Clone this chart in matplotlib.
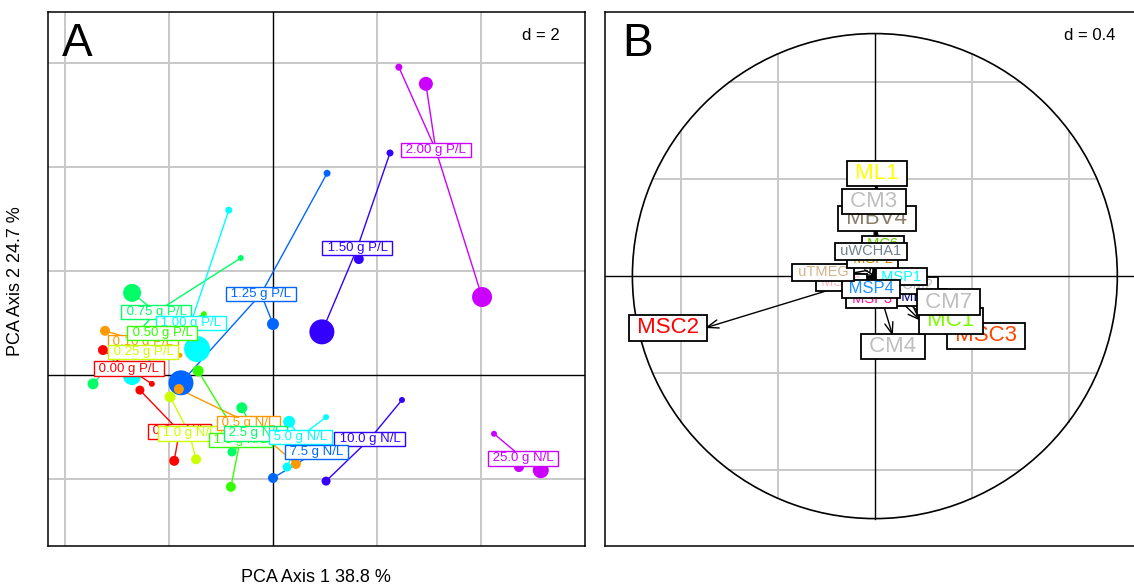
import colorsys
import matplotlib.pyplot as plt
from matplotlib.patches import Circle
import numpy as np

plt.rcParams['font.family'] = ['Liberation Sans', 'DejaVu Sans']

# ---------------- panel A : site scores grouped by treatment
groups = ['0.00 g P/L', '0.10 g P/L', '0.25 g P/L', '0.50 g P/L', '0.75 g P/L',
          '1.00 g P/L', '1.25 g P/L', '1.50 g P/L', '2.00 g P/L',
          '0.0 g N/L', '0.5 g N/L', '1.0 g N/L', '1.5 g N/L', '2.5 g N/L',
          '5.0 g N/L', '7.5 g N/L', '10.0 g N/L', '25.0 g N/L']
level = [0, 1, 2, 3, 4, 5, 6, 7, 8, 0, 1, 2, 3, 4, 5, 6, 7, 8]

cent_x = [-2.77, -2.50, -2.50, -2.13, -2.25, -1.58, -0.23, 1.62, 3.13,
          -1.80, -0.47, -1.61, -0.63, -0.34, 0.52, 0.83, 1.86, 4.81]
cent_y = [0.12, 0.63, 0.44, 0.81, 1.21, 1.00, 1.56, 2.44, 4.33,
          -1.08, -0.92, -1.12, -1.25, -1.12, -1.19, -1.48, -1.23, -1.60]

pts_x = [[-3.27, -2.33, -2.71], [-3.23, -1.79, -2.37], [-2.94, -2.46, -2.08],
         [-1.33, -2.56, -2.37], [-0.62, -2.71, -3.46], [-0.85, -1.46, -2.71],
         [1.04, 0.00, -1.77], [2.25, 1.65, 0.94], [2.42, 2.94, 4.02],
         [-2.56, -1.90, -1.40], [-1.81, 0.44, -0.35], [-1.98, -1.48, -1.45],
         [-1.44, -0.81, -0.35], [-0.60, -0.79, -0.06], [0.31, 1.02, 0.27],
         [0.00, 0.90, 1.19], [2.48, 1.02, 1.96], [4.25, 4.73, 5.15]]
pts_y = [[0.48, -0.17, 0.06], [0.85, 0.38, 0.67], [0.48, 0.58, 0.38],
         [1.17, 0.81, 0.54], [2.25, 1.58, -0.17], [3.17, 0.50, -0.02],
         [3.88, 0.98, -0.15], [4.27, 2.23, 0.83], [5.92, 5.60, 1.50],
         [-0.29, -1.65, -1.10], [-0.27, -1.71, -0.92], [-0.42, -1.62, -1.15],
         [0.08, -2.15, -1.25], [-0.63, -1.48, -1.15], [-0.90, -0.81, -1.77],
         [-1.98, -1.44, -1.54], [-0.48, -2.04, -1.25], [-1.13, -1.77, -1.83]]
# relative weight of each replicate (drawn as circle size)
pts_w = [[10, 6, 6], [10, 5, 6], [6, 6, 6], [6, 6, 6], [6, 18, 11], [7, 26, 18],
         [7, 12, 25], [7, 10, 25], [7, 14, 20],
         [9, 10, 6], [10, 10, 6], [11, 10, 6], [11, 10, 6], [11, 9, 6], [12, 6, 9],
         [10, 6, 6], [6, 9, 6], [6, 10, 16]]

# ---------------- panel B : correlation circle of the variables
var_names = ['MSC2', 'CM4', 'MSC3', 'MC1', 'MBV1', 'CM2', 'CM7', 'MSP3', 'MSB6',
             'MSP1', 'MSP4', 'uTMEG', 'MSP2', 'MC6', 'uWCHA1', 'MBV4', 'CM3', 'ML1']
var_x = [-0.701, 0.074, 0.305, 0.190, 0.091, 0.095, 0.181, -0.012, -0.040,
         0.010, -0.016, -0.091, -0.008, 0.033, -0.016, 0.008, -0.004, 0.008]
var_y = [-0.214, -0.247, -0.247, -0.185, -0.087, -0.037, -0.107, -0.066, -0.025,
         -0.002, -0.021, 0.016, 0.041, 0.103, 0.074, 0.194, 0.264, 0.379]
var_col = ['#FF0000', '#BEBEBE', '#FF4500', '#7CFC00', '#000080', '#BEBEBE',
           '#BEBEBE', '#FF1493', '#FFB6C1', '#00FFFF', '#1E90FF', '#D2B48C',
           '#CD8500', '#66CD00', '#708090', '#8B7D6B', '#BEBEBE', '#FFFF00']
var_big = [1, 1, 1, 1, 0, 0, 1, 0, 0, 0, 0, 0, 0, 0, 0, 1, 1, 1]


def rainbow(i):
    return colorsys.hsv_to_rgb(i * 0.1, 1, 1)


W, H = 1134, 587
fig = plt.figure(figsize=(W / 100, H / 100), dpi=100)
axA = fig.add_axes([48 / W, 1 - 546 / H, 537 / W, 534 / H])
axB = fig.add_axes([605 / W, 1 - 546 / H, 531 / W, 534 / H])

grid_col = '#C8C8C8'

# --- A
axA.set_xlim(-4.327, 6.0)
axA.set_ylim(-3.288, 6.981)
for g in [-4, -2, 2, 4]:
    axA.axvline(g, color=grid_col, lw=1.4, zorder=0)
for g in [-2, 2, 4, 6]:
    axA.axhline(g, color=grid_col, lw=1.4, zorder=0)
axA.axvline(0, color='black', lw=1, zorder=1)
axA.axhline(0, color='black', lw=1, zorder=1)

for k in range(len(groups)):
    col = rainbow(level[k])
    for px, py in zip(pts_x[k], pts_y[k]):
        axA.plot([cent_x[k], px], [cent_y[k], py], color=col, lw=1.0, zorder=2)

allp = []
for k in range(len(groups)):
    for px, py, w in zip(pts_x[k], pts_y[k], pts_w[k]):
        allp.append((w, px, py, rainbow(level[k])))
allp.sort(key=lambda t: -t[0])
for w, px, py, col in allp:
    axA.scatter(px, py, s=(w * 0.72) ** 2, color=col, edgecolors='none', zorder=3)

lab_order = [1, 4, 5, 3, 2, 0, 6, 7, 8, 9, 11, 10, 12, 13, 14, 16, 15, 17]
for z, k in enumerate(lab_order):
    col = rainbow(level[k])
    axA.text(cent_x[k], cent_y[k], ' ' + groups[k] + ' ', ha='center', va='center',
             fontsize=9.5, color=col, zorder=10 + z,
             bbox=dict(boxstyle='square,pad=0.1', fc='white', ec=col, lw=1))

axA.text(0.953, 0.97, 'd = 2', transform=axA.transAxes, ha='right', va='top', fontsize=12)
axA.set_xticks([])
axA.set_yticks([])
for s in axA.spines.values():
    s.set_linewidth(1.1)

# --- B
axB.set_xlim(-1.113, 1.077)
axB.set_ylim(-1.113, 1.089)
for g in [-0.8, -0.4, 0.4, 0.8]:
    h = np.sqrt(1 - g ** 2)
    axB.plot([g, g], [-h, h], color=grid_col, lw=1.4, zorder=0)
    axB.plot([-h, h], [g, g], color=grid_col, lw=1.4, zorder=0)
axB.axhline(0, color='black', lw=1, zorder=1)
axB.plot([0, 0], [-1, 1], color='black', lw=1, zorder=1)
axB.add_patch(Circle((0, 0), 1, fill=False, ec='black', lw=1.2, zorder=1))

for x, y in zip(var_x, var_y):
    axB.annotate('', xy=(x, y), xytext=(0, 0), zorder=2,
                 arrowprops=dict(arrowstyle='->,head_length=0.7,head_width=0.25',
                                 lw=1, color='black', shrinkA=0, shrinkB=0,
                                 mutation_scale=12))

for z, (lab, x, y, col, big) in enumerate(zip(var_names, var_x, var_y, var_col, var_big)):
    if abs(x) > abs(y):
        ha = 'left' if x > 0 else 'right'
        va = 'center'
    else:
        ha = 'center'
        va = 'bottom' if y > 0 else 'top'
    fs = 16 if big else 10.5
    if lab == 'MSP4':
        fs = 12
    axB.text(x, y, ' ' + lab + ' ', ha=ha, va=va, fontsize=fs, color=col, zorder=10 + z,
             bbox=dict(boxstyle='square,pad=0.1', fc='white', ec='black', lw=1.3))

axB.text(0.962, 0.97, 'd = 0.4', transform=axB.transAxes, ha='right', va='top', fontsize=12)
axB.set_xticks([])
axB.set_yticks([])
for s in axB.spines.values():
    s.set_linewidth(1.1)

fig.text(62 / W, 1 - 22 / H, 'A', fontsize=33, ha='left', va='top')
fig.text(622 / W, 1 - 22 / H, 'B', fontsize=33, ha='left', va='top')
fig.text(316 / W, 1 - 577 / H, 'PCA Axis 1 38.8 %', ha='center', va='center', fontsize=13)
fig.text(16 / W, 1 - 281 / H, 'PCA Axis 2 24.7 %', ha='center', va='center',
         rotation=90, fontsize=13)

fig.savefig('out.png', dpi=100)
